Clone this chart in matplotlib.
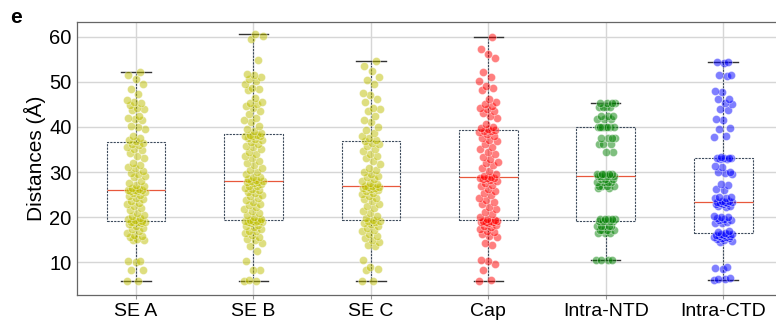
import matplotlib
matplotlib.use("Agg")
import matplotlib.pyplot as plt
import numpy as np

plt.rcParams['font.family'] = ['Liberation Sans', 'DejaVu Sans']

# Data (distances in Angstrom)
categories = ['SE A', 'SE B', 'SE C', 'Cap', 'Intra-NTD', 'Intra-CTD']
colors = ['y', 'y', 'y', 'red', 'green', 'blue']

se_a = [5.7, 5.9, 8.2, 8.3, 10.1, 10.2, 10.3, 14.8, 15.0, 15.2, 15.5, 15.8, 16.0, 16.5, 16.8, 17.3, 17.6, 18.0, 18.4, 18.7, 18.9, 19.0, 19.0, 19.0,
        19.2, 19.3, 19.5, 19.8, 20.2, 20.5, 21.0, 21.5, 22.0, 22.4, 22.8, 23.2, 23.6, 24.0, 24.3, 24.7, 25.0, 25.3, 25.5, 25.7, 25.8, 25.9, 26.0, 26.0,
        26.2, 26.5, 26.8, 27.2, 27.6, 28.0, 28.8, 29.2, 29.5, 29.8, 30.2, 31.0, 31.2, 31.6, 32.0, 33.0, 33.6, 34.2, 34.8, 35.2, 35.6, 36.0, 36.3, 36.5,
        36.8, 37.2, 37.6, 38.0, 39.5, 40.0, 40.2, 41.5, 41.8, 42.0, 42.5, 43.8, 44.0, 44.3, 44.8, 45.3, 45.6, 46.0, 47.3, 48.4, 49.6, 50.6, 51.6, 52.1]

se_b = [5.7, 5.8, 6.0, 8.2, 8.3, 10.2, 12.5, 13.5, 14.3, 14.8, 15.2, 15.6, 16.0, 16.4, 16.8, 17.0, 17.3, 17.7, 18.0, 18.3, 18.6, 18.8, 19.0, 19.0, 19.1, 19.1, 19.2, 19.2,
        19.4, 19.6, 20.0, 20.4, 20.8, 21.3, 21.8, 22.2, 22.6, 23.0, 23.4, 23.8, 24.2, 24.6, 25.0, 25.3, 25.6, 25.9, 26.2, 26.5, 26.8, 27.0, 27.3, 27.5, 27.7, 27.8, 27.9, 28.0,
        28.2, 28.5, 28.8, 29.0, 29.5, 30.0, 30.5, 31.0, 31.5, 32.0, 32.5, 33.0, 33.5, 34.0, 34.5, 35.0, 35.5, 35.8, 36.2, 36.6, 37.0, 37.3, 37.6, 37.9, 38.0, 38.1, 38.2, 38.3,
        38.6, 39.0, 39.6, 40.2, 41.0, 41.6, 42.0, 42.8, 43.5, 44.2, 44.6, 45.0, 45.3, 45.6, 46.5, 48.3, 48.5, 48.7, 49.5, 50.2, 50.6, 51.0, 51.5, 51.8, 54.9, 59.6, 60.3, 60.7]

se_c = [5.7, 5.9, 8.3, 8.5, 9.0, 10.5, 13.5, 13.8, 14.5, 15.0, 15.3, 15.8, 16.3, 16.8, 17.2, 17.6, 18.0, 18.4, 18.7, 19.0, 19.1, 19.2,
        19.4, 19.7, 20.2, 20.8, 21.4, 22.0, 22.5, 23.0, 23.5, 23.9, 24.3, 24.7, 25.1, 25.4, 25.7, 26.0, 26.2, 26.4, 26.5, 26.6, 26.7, 26.8,
        27.0, 27.3, 27.6, 28.0, 28.4, 28.8, 29.2, 29.6, 30.0, 30.5, 31.0, 31.8, 32.5, 33.0, 33.5, 34.0, 34.6, 35.2, 35.8, 36.2, 36.5, 36.8,
        37.2, 37.6, 38.0, 38.6, 39.3, 40.0, 41.0, 41.6, 42.4, 43.5, 44.0, 44.3, 45.6, 46.2, 47.2, 47.5, 49.5, 50.4, 51.0, 52.5, 53.5, 54.6]

cap = [5.7, 6.0, 8.2, 9.5, 10.3, 10.5, 13.8, 14.2, 15.5, 15.8, 16.2, 16.6, 17.0, 17.4, 17.8, 18.0, 18.3, 18.6, 18.8, 19.0, 19.0, 19.1, 19.1, 19.2,
       19.3, 19.6, 20.0, 20.6, 21.2, 21.8, 22.3, 22.8, 23.3, 23.8, 24.3, 24.8, 25.3, 25.8, 26.3, 26.8, 27.2, 27.6, 28.0, 28.3, 28.5, 28.6, 28.7, 28.7,
       28.9, 29.2, 29.6, 30.2, 31.0, 31.6, 32.0, 32.3, 32.8, 33.4, 34.0, 34.5, 35.0, 35.6, 36.2, 36.8, 37.2, 37.6, 38.0, 38.4, 38.8, 39.0, 39.2, 39.3,
       39.5, 39.8, 40.0, 40.6, 42.0, 42.5, 43.0, 43.5, 44.0, 44.3, 44.6, 45.0, 45.6, 46.2, 48.3, 48.6, 49.0, 50.3, 51.2, 52.2, 55.3, 56.3, 57.4, 60.0]

intra_ntd = [10.4] * 4 + [16.5] * 3 + [17.2] * 4 + [18.1] * 5 + [19.2] * 5 + [19.6] * 5 + \
            [26.5] * 2 + [27.0] * 4 + [27.8] * 4 + [28.5] * 3 + [29.2] * 6 + [29.6] * 5 + \
            [34.4] * 2 + [36.3] * 3 + [37.5] * 4 + [40.0] * 7 + [41.8] * 3 + [42.5] * 3 + [44.4] * 4 + [45.3] * 4

intra_ctd = [6.0, 6.2, 6.3, 6.5, 8.5, 8.7, 9.0, 14.5, 14.6, 14.8, 15.2, 15.3, 15.4, 15.5, 15.6, 15.8, 15.9, 16.0, 16.1, 16.2, 16.3, 16.3,
             16.5, 16.6, 16.8, 18.6, 18.7, 18.8, 19.3, 19.4, 19.5, 19.8, 20.0, 20.1, 20.2, 22.2, 22.4, 22.5, 22.8, 23.0, 23.1, 23.2, 23.3, 23.3,
             23.4, 23.5, 23.6, 24.2, 24.3, 24.4, 24.5, 26.1, 26.2, 27.2, 27.3, 29.6, 29.8, 29.9, 30.0, 31.2, 31.4, 32.8, 32.9, 33.0, 33.0, 33.1,
             33.2, 33.3, 37.8, 38.0, 39.5, 39.7, 41.5, 41.7, 43.8, 44.0, 45.2, 45.4, 46.1, 46.3, 47.7, 47.9, 51.3, 51.5, 51.6, 54.3, 54.4, 54.4]

groups = [se_a, se_b, se_c, cap, intra_ntd, intra_ctd]

fig = plt.figure(figsize=(7.76, 3.22), dpi=100)
ax = fig.add_axes([77 / 776, 1 - 295 / 322, 1 - 77 / 776, (295 - 22) / 322])

pos = np.arange(len(categories))
ax.boxplot(groups, positions=pos, widths=0.5, whis=(0, 100), showfliers=False,
           boxprops=dict(color='#3d4b5c', linewidth=0.8, linestyle=(0, (2, 1))),
           whiskerprops=dict(color='#3d4b5c', linewidth=0.8, linestyle=(0, (2, 1))),
           capprops=dict(color='#333333', linewidth=1.0),
           medianprops=dict(color='#e8583c', linewidth=0.9),
           zorder=2)

# strip points with a fixed (golden-ratio) horizontal spread
for i, (vals, c) in enumerate(zip(groups, colors)):
    v = np.sort(np.array(vals))
    k = np.arange(len(v))
    off = ((k * 0.618034) % 1 - 0.5) * 0.16
    ax.scatter(pos[i] + off, v, s=34, color=c, alpha=0.5, edgecolors='white',
               linewidths=0.5, zorder=3)

ax.set_xlim(-0.503, 5.45)
ax.set_ylim(2.7, 63.3)
ax.set_xticks(pos)
ax.set_xticklabels(categories, fontsize=14)
ax.set_yticks([10, 20, 30, 40, 50, 60])
ax.tick_params(axis='y', labelsize=14.5, length=0, pad=4)
ax.tick_params(axis='x', length=3, color='#999999', pad=3)
ax.set_ylabel('Distances (Å)', fontsize=15, labelpad=2)
ax.grid(True, color='#d6d6d6', linewidth=1.0, zorder=0)
ax.set_axisbelow(True)
for s in ['left', 'top', 'bottom']:
    ax.spines[s].set_color('#666666')
    ax.spines[s].set_linewidth(0.9)
ax.spines['right'].set_visible(False)

fig.text(10 / 776, 1 - 8 / 322, 'e', fontsize=15, fontweight='bold', va='top', ha='left')

fig.savefig('out.png', dpi=100)
